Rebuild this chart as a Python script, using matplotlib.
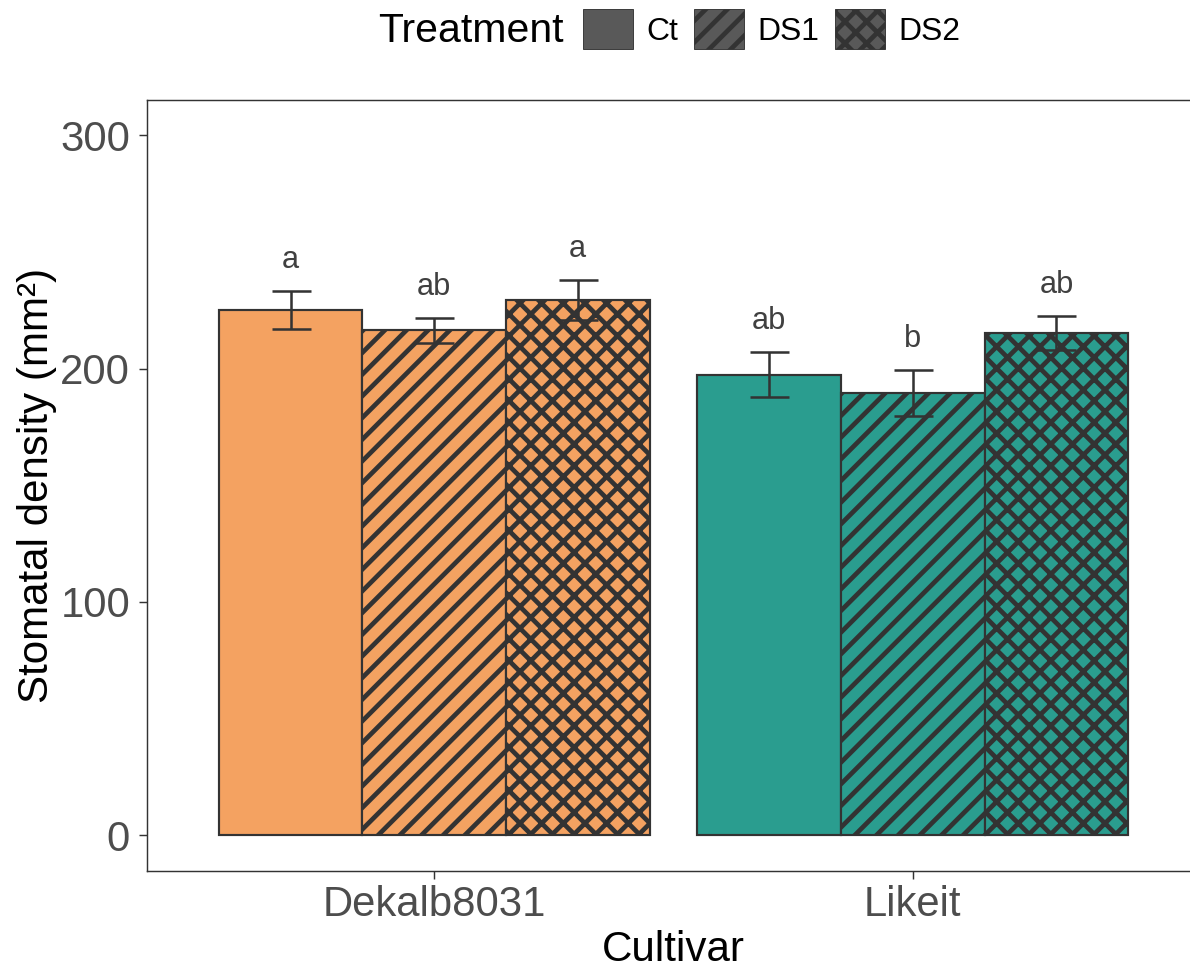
import matplotlib
matplotlib.use("Agg")
import matplotlib.pyplot as plt
from matplotlib.patches import Patch
import numpy as np

# ---- data ----
cultivars = ["Dekalb8031", "Likeit"]
treatments = ["Ct", "DS1", "DS2"]
means_dekalb = [225.0, 216.3, 229.4]
se_dekalb = [8.0, 5.3, 8.5]
means_likeit = [197.3, 189.5, 215.2]
se_likeit = [9.6, 9.7, 7.1]
letters_dekalb = ["a", "ab", "a"]
letters_likeit = ["ab", "b", "ab"]
yticks = [0, 100, 200, 300]

# ---- style ----
DPI = 130
plt.rcParams['font.family'] = ['Liberation Sans', 'DejaVu Sans']
plt.rcParams['hatch.linewidth'] = 2.6
cult_colors = ["#F4A261", "#2A9D8F"]
hatches = ["", "//", "xx"]
edge = "#333333"

fig = plt.figure(figsize=(1190 / DPI, 968 / DPI), dpi=DPI)
ax = fig.add_axes([147 / 1190, (968 - 870.5) / 968, (1200 - 147) / 1190, (870.5 - 100) / 968])

width = 0.3
means_all = [means_dekalb, means_likeit]
se_all = [se_dekalb, se_likeit]
letters_all = [letters_dekalb, letters_likeit]
for gi, cult in enumerate(cultivars):
    center = gi + 1
    for ti, tr in enumerate(treatments):
        x = center + (ti - 1) * width
        m = means_all[gi][ti]
        s = se_all[gi][ti]
        ax.bar(x, m, width=width, color=cult_colors[gi], edgecolor=edge,
               linewidth=1.2, hatch=hatches[ti], zorder=2)
        ax.errorbar(x, m, yerr=s, fmt='none', ecolor=edge, elinewidth=1.4,
                    capsize=10.8, capthick=1.4, zorder=3)
        ax.text(x, m + s + 10, letters_all[gi][ti], ha='center', va='baseline',
                fontsize=17, color="#404040", zorder=4)

ax.set_xlim(0.4, 2.6)
ax.set_ylim(-15, 315)
ax.set_xticks([1, 2])
ax.set_xticklabels(cultivars)
ax.set_yticks(yticks)
ax.set_yticklabels([str(v) for v in yticks])
ax.tick_params(axis='both', labelsize=23.2, labelcolor="#4D4D4D", color=edge,
               length=4.4, width=0.8, direction='out')
ax.tick_params(axis='y', pad=5)
ax.tick_params(axis='x', pad=3.5)
for sp in ax.spines.values():
    sp.set_color(edge)
    sp.set_linewidth(0.8)
ax.set_xlabel("Cultivar", fontsize=23.3, color="black", labelpad=3)
ax.set_ylabel("Stomatal density (mm²)", fontsize=23.3, color="black", labelpad=2)

# ---- legend ----
fig.text(378 / 1190, 1 - 31 / 968, "Treatment", fontsize=22.7, color="black",
         ha='left', va='center')
handles = [Patch(facecolor="#595959", edgecolor=edge, linewidth=0.5, hatch=h)
           for h in hatches]
fig.legend(handles, treatments, loc='center left',
           bbox_to_anchor=(583 / 1190, 1 - 29 / 968), ncol=3, frameon=False,
           fontsize=17.7, handlelength=1.56, handleheight=1.53,
           handletextpad=0.42, columnspacing=0.5, borderpad=0,
           borderaxespad=0)

fig.savefig("out.png", dpi=DPI)
